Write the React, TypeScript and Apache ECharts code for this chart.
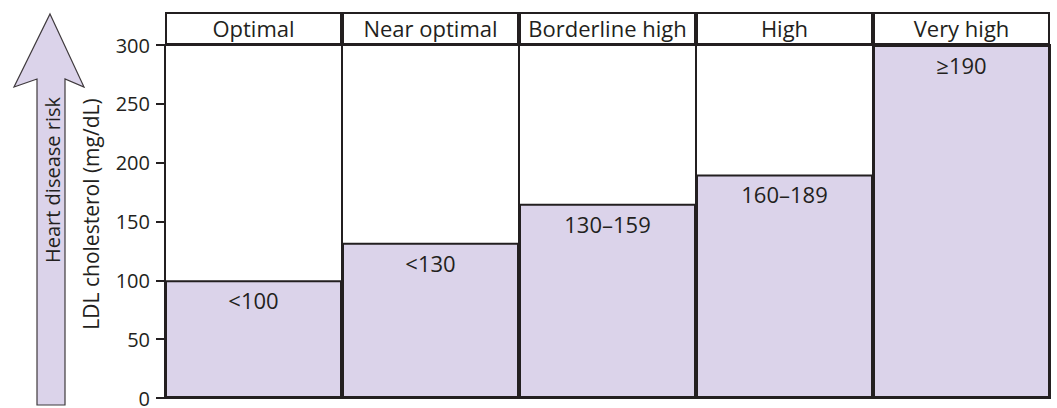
import React, { useEffect, useRef } from "react";
import * as echarts from "echarts";

const categories = ["Optimal", "Near optimal", "Borderline high", "High", "Very high"];
const ldlValues = [100, 132, 165, 190, 300];
const rangeLabels = ["<100", "<130", "130\u2013159", "160\u2013189", "\u2265190"];
const headerValues = [1, 1, 1, 1, 1];
const yAxisTitle = "LDL cholesterol (mg/dL)";
const arrowTitle = "Heart disease risk";

const INK = "#231f20";
const LAV = "#dbd3ea";
const FONT = "'Open Sans', 'Noto Sans', sans-serif";

export default function App() {
  const ref = useRef<HTMLDivElement>(null);
  useEffect(() => {
    if (!ref.current) return;
    const chart = echarts.init(ref.current, null, { renderer: "svg" });
    chart.setOption({
      animation: false,
      backgroundColor: "#ffffff",
      textStyle: { fontFamily: FONT },
      grid: [
        { left: 165, right: 7, top: 45, bottom: 5.5, show: true, borderColor: INK, borderWidth: 2, backgroundColor: "transparent" },
        { left: 165, right: 7, top: 12, height: 33 },
      ],
      xAxis: [
        {
          type: "category",
          gridIndex: 0,
          data: categories,
          axisLine: { show: true, lineStyle: { color: INK, width: 2 } },
          axisTick: { show: false },
          axisLabel: { show: false },
          splitLine: { show: true, lineStyle: { color: INK, width: 2 } },
        },
        {
          type: "category",
          gridIndex: 1,
          data: categories,
          axisLine: { show: false },
          axisTick: { show: false },
          axisLabel: { show: false },
          splitLine: { show: false },
        },
      ],
      yAxis: [
        {
          type: "value",
          gridIndex: 0,
          min: 0,
          max: 300,
          interval: 50,
          axisLine: { show: true, lineStyle: { color: INK, width: 2 } },
          axisTick: { show: true, inside: false, length: 9, lineStyle: { color: INK, width: 2 } },
          axisLabel: { color: INK, fontSize: 20, fontFamily: FONT, margin: 15 },
          splitLine: { show: false },
        },
        { type: "value", gridIndex: 1, min: 0, max: 1, show: false },
      ],
      series: [
        {
          type: "bar",
          xAxisIndex: 0,
          yAxisIndex: 0,
          data: ldlValues,
          barWidth: "100%",
          itemStyle: { color: LAV, borderColor: INK, borderWidth: 2 },
          label: {
            show: true,
            position: "insideTop",
            distance: 9,
            color: INK,
            fontSize: 22,
            fontFamily: FONT,
            formatter: (p: any) => rangeLabels[p.dataIndex],
          },
        },
        {
          type: "bar",
          xAxisIndex: 1,
          yAxisIndex: 1,
          data: headerValues,
          barWidth: "100%",
          itemStyle: { color: "#ffffff", borderColor: INK, borderWidth: 2 },
          label: {
            show: true,
            position: "inside",
            color: INK,
            fontSize: 22,
            fontFamily: FONT,
            offset: [0, -1],
            formatter: (p: any) => p.name,
          },
        },
      ],
      graphic: [
        {
          type: "polygon",
          shape: {
            points: [
              [50, 14],
              [84, 87],
              [65, 79],
              [65, 405],
              [37, 405],
              [37, 79],
              [14, 87],
            ],
          },
          style: { fill: LAV, stroke: "#3f3a3d", lineWidth: 1.2 },
        },
        {
          type: "text",
          x: 52,
          y: 180,
          rotation: Math.PI / 2,
          style: {
            text: arrowTitle,
            fill: INK,
            font: `20px ${FONT}`,
            align: "center",
            verticalAlign: "middle",
          },
        },
        {
          type: "text",
          x: 91,
          y: 214,
          rotation: Math.PI / 2,
          style: {
            text: yAxisTitle,
            fill: INK,
            font: `21px ${FONT}`,
            align: "center",
            verticalAlign: "middle",
          },
        },
      ],
    });
    return () => chart.dispose();
  }, []);
  return (
    <div
      ref={ref}
      style={{ position: "fixed", left: 0, top: 0, width: 1057, height: 408 }}
    />
  );
}
